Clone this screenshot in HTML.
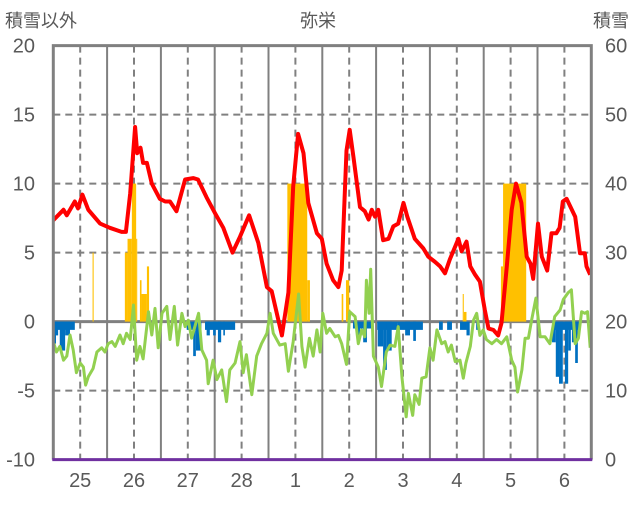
<!DOCTYPE html>
<html><head><meta charset="utf-8"><style>
body{margin:0;background:#fff;}
svg text{font-family:"Liberation Sans","Noto Sans CJK JP",sans-serif;fill:#595959;}
</style></head><body>
<svg id="chart" width="636" height="501" xmlns="http://www.w3.org/2000/svg">
<g id="grid"></g>
<g id="bars"></g>
<g id="lines"></g>
<g id="frame"></g>
<g id="labels"></g>
</svg>
<script>
const yearLabels=["25","26","27","28","1","2","3","4","5","6"];
const leftTicks=[20,15,10,5,0,-5,-10];
const rightTicks=[60,50,40,30,20,10,0];
const redT=[0,0.19,0.25,0.40,0.46,0.54,0.65,0.87,1.05,1.27,1.35,1.43,1.52,1.56,1.62,1.67,1.74,1.83,1.98,2.08,2.17,2.29,2.45,2.6,2.69,2.85,3.0,3.16,3.33,3.47,3.64,3.81,3.97,4.06,4.25,4.37,4.46,4.55,4.65,4.74,4.9,4.99,5.08,5.2,5.3,5.36,5.45,5.51,5.58,5.7,5.79,5.86,5.92,5.98,6.04,6.13,6.23,6.32,6.41,6.51,6.58,6.72,6.88,6.97,7.09,7.19,7.28,7.37,7.53,7.59,7.68,7.75,7.84,7.93,8.02,8.09,8.18,8.27,8.33,8.43,8.52,8.6,8.7,8.8,8.87,8.92,9.01,9.08,9.18,9.26,9.35,9.41,9.47,9.54,9.7,9.79,9.88,9.91,9.98];
const redV=[7.35,8.1,7.7,8.7,8.2,9.2,8.1,7.1,6.8,6.5,6.5,9.3,14.1,12.2,12.6,11.5,11.5,10.0,8.9,8.7,8.7,8.0,10.3,10.4,10.3,9.0,7.9,6.8,5.0,6.15,7.7,5.7,2.5,2.2,-1.0,2.1,9.8,13.6,12.2,8.6,6.4,6.0,4.2,3.0,2.5,3.7,12.4,13.9,11.9,8.3,8.0,7.4,8.1,7.6,8.1,5.9,6.0,6.9,7.1,8.6,7.6,6.0,5.3,4.7,4.35,4.0,3.5,4.5,6.0,5.1,5.8,4.0,3.4,2.9,0.85,-0.5,-0.6,-1.0,-0.1,4.0,8.1,10.0,8.6,4.7,4.2,3.1,7.1,4.7,3.7,6.4,6.4,6.8,8.7,8.9,7.6,4.95,4.95,4.0,3.4];
const greenT=[0.01,0.06,0.12,0.19,0.25,0.31,0.37,0.43,0.50,0.56,0.60,0.65,0.74,0.81,0.90,0.96,1.02,1.09,1.15,1.24,1.30,1.36,1.43,1.49,1.55,1.61,1.67,1.77,1.83,1.89,1.95,2.02,2.11,2.17,2.25,2.31,2.39,2.45,2.51,2.57,2.70,2.76,2.85,2.88,2.97,3.04,3.13,3.22,3.28,3.38,3.47,3.53,3.59,3.69,3.78,3.87,3.97,4.03,4.09,4.21,4.31,4.37,4.46,4.56,4.62,4.68,4.76,4.83,4.90,4.96,5.01,5.08,5.14,5.24,5.30,5.36,5.45,5.51,5.61,5.67,5.73,5.79,5.82,5.87,5.90,5.95,6.04,6.10,6.19,6.26,6.35,6.41,6.48,6.56,6.60,6.68,6.72,6.80,6.85,6.93,7.00,7.06,7.13,7.22,7.28,7.34,7.40,7.47,7.56,7.62,7.67,7.75,7.81,7.87,7.93,7.99,8.05,8.15,8.24,8.33,8.43,8.52,8.58,8.63,8.71,8.77,8.83,8.89,8.97,9.05,9.14,9.23,9.32,9.42,9.48,9.57,9.63,9.70,9.76,9.82,9.88,9.93,9.98];
const greenV=[-1.57,-2.2,-1.8,-2.8,-2.5,-0.97,-2.05,-3.7,-3.0,-3.3,-4.6,-4.0,-3.4,-2.2,-1.9,-2.2,-1.6,-1.45,-1.8,-0.97,-1.6,-0.85,-1.3,1.2,-2.8,-1.8,-2.7,0.72,-0.97,0.96,-1.9,0.6,1.1,-1.3,1.1,-1.7,0.6,-0.36,0.1,-1.2,0.6,-2.05,-2.8,-4.5,-2.8,-4.2,-3.5,-5.8,-3.5,-3.0,-1.45,-3.7,-2.4,-5.3,-2.5,-1.6,-0.85,0.6,-0.85,-1.7,-1.6,-3.6,-1.45,2.0,-1.8,-3.3,-1.2,-2.5,-0.6,-2.2,0.6,-0.85,-0.5,-1.1,-1.0,-1.6,-3.1,0.72,0.36,-1.6,-0.6,-1.1,3.0,0.6,3.8,-2.5,-3.3,-4.7,-2.2,-1.7,-1.8,-0.36,-3.99,-6.9,-5.2,-6.8,-5.3,-6.0,-4.1,-4.0,-1.9,-2.8,-0.6,-1.6,-1.45,-2.2,-1.7,-2.9,-2.8,-4.1,-3.0,-1.8,0.1,0.6,-1.0,-0.6,-1.3,-1.6,-1.3,-1.6,-1.1,-2.8,-3.3,-5.1,-3.5,-1.2,-1.2,0.1,1.7,-1.1,-1.1,-1.6,0.36,0.84,1.6,2.1,2.3,-1.6,-1.2,0.72,0.6,0.72,-1.9];
const orangeStart=[0.73,1.33,1.38,1.46,1.54,1.61,1.64,1.74,4.35,4.72,5.36,5.44,7.61,7.63,8.32,8.36];
const orangeEnd=[0.75,1.38,1.46,1.54,1.56,1.64,1.74,1.78,4.72,4.77,5.39,5.50,7.63,7.68,8.36,8.79];
const orangeV=[5,5,6,10,6,3,2,4,10,3,2,3,2,0.7,4,10];
const blueStart=[0.01,0.01,0.05,0.12,0.22,2.48,2.60,2.65,2.82,2.85,2.97,3.06,3.16,5.57,5.66,5.76,6.02,6.03,6.13,6.20,6.39,6.54,6.69,7.17,7.32,7.56,7.68,7.86,9.27,9.27,9.34,9.40,9.51,9.57,9.64,9.70];
const blueEnd=[0.40,0.05,0.09,0.22,0.31,2.75,2.65,2.75,3.38,2.91,3.02,3.12,3.19,5.94,5.70,5.83,6.39,6.13,6.20,6.29,6.87,6.63,6.74,7.24,7.41,7.68,7.74,7.91,9.79,9.34,9.40,9.47,9.57,9.62,9.70,9.75];
const blueV=[-0.6,-1.6,-1.0,-2.1,-1.0,-0.6,-2.5,-2.1,-0.6,-1.0,-1.0,-1.5,-1.0,-0.5,-1.0,-1.5,-0.6,-1.8,-3.5,-2.1,-0.6,-1.0,-1.4,-0.6,-0.6,-0.6,-1.0,-0.6,-0.6,-1.5,-4.0,-4.5,-4.5,-2.1,-1.5,-3.0];

const X0=53.3,YW=53.8,Y0=321.6,UNIT=13.8;
function xs(t){return X0+t*YW;}
function ys(v){return Y0-v*UNIT;}
const NS="http://www.w3.org/2000/svg";
function mk(tag,attrs,parent){const e=document.createElementNS(NS,tag);for(const k in attrs)e.setAttribute(k,attrs[k]);parent.appendChild(e);return e;}
const gGrid=document.getElementById('grid'),gBars=document.getElementById('bars'),gLines=document.getElementById('lines'),gFrame=document.getElementById('frame'),gLabels=document.getElementById('labels');
const plotTop=ys(20),plotBot=ys(-10),plotRight=xs(10);
[15,10,5,-5].forEach(v=>{
  const l=mk('line',{x1:X0,x2:plotRight,y1:ys(v),y2:ys(v),stroke:'#808080','stroke-width':2,'stroke-dasharray':'7,5'},gGrid);
  
  
});
for(let i=1;i<10;i++){
  const l=mk('line',{x1:xs(i),x2:xs(i),y1:plotTop,y2:plotBot,stroke:'#808080','stroke-width':2},gGrid);
  
  
}
for(let i=0;i<10;i++){
  const l=mk('line',{x1:xs(i+0.5),x2:xs(i+0.5),y1:plotTop,y2:plotBot,stroke:'#808080','stroke-width':2,'stroke-dasharray':'7,5'},gGrid);
  
  
}
orangeV.forEach((v,i)=>{
  const r=mk('rect',{x:xs(orangeStart[i]),width:Math.max(1,xs(orangeEnd[i])-xs(orangeStart[i])),y:ys(v),height:ys(0)-ys(v),fill:'#ffc000'},gBars);
  
  
});
blueV.forEach((v,i)=>{
  const r=mk('rect',{x:xs(blueStart[i]),width:Math.max(1,xs(blueEnd[i])-xs(blueStart[i])),y:ys(0),height:ys(v)-ys(0),fill:'#0070c0'},gBars);
  
  
});
const zl=mk('line',{x1:X0,x2:plotRight,y1:ys(0),y2:ys(0),stroke:'#808080','stroke-width':3},gGrid);


const gp=mk('polyline',{points:greenT.map((t,i)=>xs(t).toFixed(1)+','+ys(greenV[i]).toFixed(1)).join(' '),fill:'none',stroke:'#92d050','stroke-width':3,'stroke-linejoin':'round'},gLines);


const rp=mk('polyline',{points:redT.map((t,i)=>xs(t).toFixed(1)+','+ys(redV[i]).toFixed(1)).join(' '),fill:'none',stroke:'#ff0000','stroke-width':4,'stroke-linejoin':'round'},gLines);


const fb=mk('polyline',{points:`${X0},${plotBot} ${X0},${plotTop} ${plotRight},${plotTop} ${plotRight},${plotBot}`,fill:'none',stroke:'#808080','stroke-width':3},gFrame);


const pl=mk('line',{x1:X0-1,x2:plotRight+1,y1:plotBot,y2:plotBot,stroke:'#7030a0','stroke-width':3},gFrame);


leftTicks.forEach(v=>{
  const t=mk('text',{x:35,y:ys(v)+7,'text-anchor':'end','font-size':20},gLabels);t.textContent=v;
  
  
});
rightTicks.forEach((v,i)=>{
  const t=mk('text',{x:605,y:ys(leftTicks[i])+7,'font-size':20},gLabels);t.textContent=v;
  
  
});
yearLabels.forEach((s,i)=>{
  const t=mk('text',{x:xs(i+0.5),y:487,'text-anchor':'middle','font-size':20},gLabels);t.textContent=s;
  
  
});
const tl=mk('text',{x:5,y:27,'font-size':18},gLabels);tl.textContent='積雪以外';


const tt=mk('text',{x:318,y:27,'text-anchor':'middle','font-size':18},gLabels);tt.textContent='弥栄';


const tr=mk('text',{x:593,y:27,'font-size':18},gLabels);tr.textContent='積雪';


</script>
</body></html>
